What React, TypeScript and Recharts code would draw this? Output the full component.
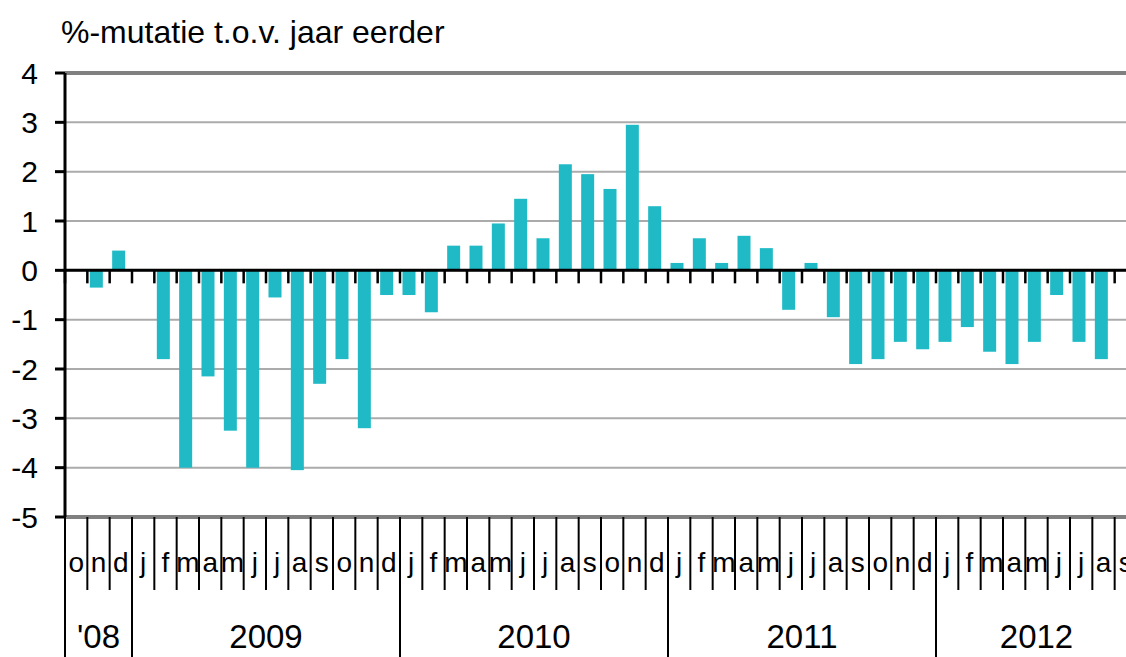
import React from 'react';
import { BarChart, Bar, XAxis, YAxis, CartesianGrid, ReferenceLine } from 'recharts';

// months oct 2008 - sep 2012 (dutch initials)
const MONTHS = [
  'o', 'n', 'd',
  'j', 'f', 'm', 'a', 'm', 'j', 'j', 'a', 's', 'o', 'n', 'd',
  'j', 'f', 'm', 'a', 'm', 'j', 'j', 'a', 's', 'o', 'n', 'd',
  'j', 'f', 'm', 'a', 'm', 'j', 'j', 'a', 's', 'o', 'n', 'd',
  'j', 'f', 'm', 'a', 'm', 'j', 'j', 'a', 's',
];

const VALUES: (number | null)[] = [
  null, -0.35, 0.4,
  null, -1.8, -4.0, -2.15, -3.25, -4.0, -0.55, -4.05, -2.3, -1.8, -3.2, -0.5,
  -0.5, -0.85, 0.5, 0.5, 0.95, 1.45, 0.65, 2.15, 1.95, 1.65, 2.95, 1.3,
  0.15, 0.65, 0.15, 0.7, 0.45, -0.8, 0.15, -0.95, -1.9, -1.8, -1.45, -1.6,
  -1.45, -1.15, -1.65, -1.9, -1.45, -0.5, -1.45, -1.8, null,
];

const YEARS = [
  { label: "'08", first: 0, last: 2 },
  { label: '2009', first: 3, last: 14 },
  { label: '2010', first: 15, last: 26 },
  { label: '2011', first: 27, last: 38 },
  { label: '2012', first: 39, last: 47 },
];

const Y_TICKS = [-5, -4, -3, -2, -1, 0, 1, 2, 3, 4];

const data = MONTHS.map((m, i) => ({ id: `m${i}`, maand: m, waarde: VALUES[i] }));

const FONT = "'Liberation Sans', Arial, sans-serif";
const BAR_COLOR = '#1fbac6';

const CHART_W = 1140;
const CHART_H = 657;
const MARGIN = { top: 73, right: 3, bottom: 0, left: 0 };
const X_AXIS_H = 140;
const Y_AXIS_W = 65;
const PLOT_TOP = MARGIN.top;
const PLOT_BOTTOM = CHART_H - MARGIN.bottom - X_AXIS_H;
const PLOT_W = CHART_W - MARGIN.left - MARGIN.right - Y_AXIS_W;
const BW = PLOT_W / MONTHS.length;
const ZERO_Y = PLOT_TOP + (4 / 9) * (PLOT_BOTTOM - PLOT_TOP);

function MonthTick(props: any) {
  const { x, payload } = props;
  const i = props.index ?? payload.index;
  const left = x - BW / 2;
  const year = YEARS.find((y) => y.first === i);
  const isLast = i === MONTHS.length - 1;
  return (
    <g>
      <line x1={left} x2={left} y1={ZERO_Y} y2={ZERO_Y + 13} stroke="#000" strokeWidth={2.5} />
      <line x1={left} x2={left} y1={PLOT_BOTTOM} y2={year ? CHART_H : PLOT_BOTTOM + 73} stroke="#000" strokeWidth={2} />
      {isLast && (
        <line x1={x + BW / 2} x2={x + BW / 2} y1={PLOT_BOTTOM} y2={CHART_H} stroke="#000" strokeWidth={2} />
      )}
      <text x={x} y={572} textAnchor="middle" fontSize={28} fontFamily={FONT} fill="#000">
        {MONTHS[i]}
      </text>
      {year && (
        <text x={x + ((year.last - year.first) * BW) / 2} y={648} textAnchor="middle" fontSize={33} fontFamily={FONT} fill="#000">
          {year.label}
        </text>
      )}
    </g>
  );
}

function ShiftedBar(props: any) {
  const { x, y, width, height } = props;
  if (height == null || width == null) return null;
  const top = Math.min(y, y + height);
  return <rect x={x - 2.5} y={top} width={width} height={Math.abs(height)} fill={BAR_COLOR} />;
}

export default function App() {
  return (
    <div style={{ position: 'absolute', left: 0, top: 0, width: 1126, height: 657, overflow: 'hidden', background: '#fff' }}>
      <svg width={1126} height={60} style={{ position: 'absolute', left: 0, top: 0 }}>
        <text x={61} y={43} fontSize={32} fontFamily={FONT} fill="#000">
          %-mutatie t.o.v. jaar eerder
        </text>
      </svg>
      <div style={{ position: 'absolute', left: 0, top: 0 }}>
        <BarChart width={CHART_W} height={CHART_H} data={data} margin={MARGIN} barSize={13}>
          <CartesianGrid vertical={false} stroke="#ababab" strokeWidth={2} />
          <XAxis
            dataKey="id"
            interval={0}
            axisLine={false}
            tickLine={false}
            tick={<MonthTick />}
            height={X_AXIS_H}
          />
          <YAxis
            type="number"
            domain={[-5, 4]}
            ticks={Y_TICKS}
            interval={0}
            width={Y_AXIS_W}
            axisLine={{ stroke: '#000', strokeWidth: 3 }}
            tickLine={{ stroke: '#000', strokeWidth: 3 }}
            tickSize={10}
            tickMargin={17}
            tick={{ fontSize: 30, fill: '#000', fontFamily: FONT }}
          />
          <ReferenceLine y={4} stroke="#808080" strokeWidth={4} />
          <ReferenceLine y={-5} stroke="#808080" strokeWidth={4} />
          <Bar dataKey="waarde" fill={BAR_COLOR} shape={<ShiftedBar />} isAnimationActive={false} />
          <ReferenceLine y={0} stroke="#000" strokeWidth={3} />
        </BarChart>
      </div>
    </div>
  );
}
